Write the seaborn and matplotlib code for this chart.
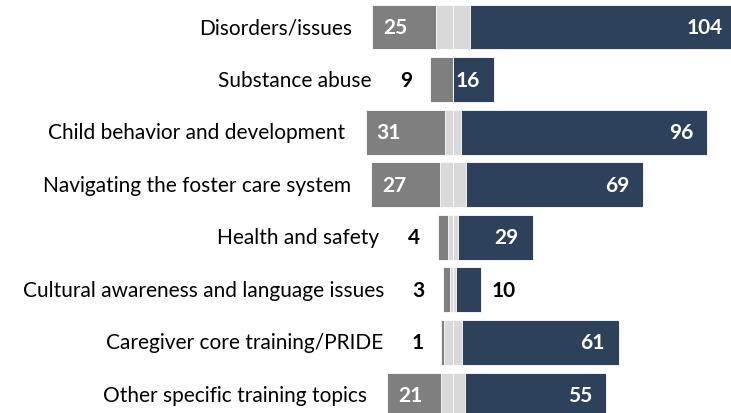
import matplotlib
matplotlib.use("Agg")
import matplotlib.pyplot as plt
import seaborn as sns
import pandas as pd
import numpy as np

categories = [
    "Disorders/issues",
    "Substance abuse",
    "Child behavior and development",
    "Navigating the foster care system",
    "Health and safety",
    "Cultural awareness and language issues",
    "Caregiver core training/PRIDE",
    "Other specific training topics",
]
gray_vals = [25, 9, 31, 27, 4, 3, 1, 21]
neutral_vals = [13, 0, 6, 10, 4, 2, 7, 9]
blue_vals = [104, 16, 96, 69, 29, 10, 61, 55]

GRAY = "#7f7f7f"
LIGHT = "#d9d9d9"
BLUE = "#264061"

sns.set_theme(style="white")
plt.rcParams["font.family"] = ["Lato", "DejaVu Sans"]

df = pd.DataFrame({
    "cat": categories,
    "gray": gray_vals,
    "neutral": neutral_vals,
    "blue": blue_vals,
})
half = df["neutral"] / 2.0
df["left_total"] = -(df["gray"] + half)
df["left_half"] = -half
df["right_total"] = df["blue"] + half
df["right_half"] = half

fig = plt.figure(figsize=(7.31, 4.14), dpi=100)
ax = fig.add_axes([0, 0, 1, 1])

bw = 0.855
kw = dict(orient="h", width=bw, edgecolor="white", linewidth=0.6, ax=ax)
sns.barplot(data=df, x="left_total", y="cat", color=GRAY, **kw)
sns.barplot(data=df, x="left_half", y="cat", color=LIGHT, **kw)
sns.barplot(data=df, x="right_total", y="cat", color=BLUE, **kw)
sns.barplot(data=df, x="right_half", y="cat", color=LIGHT, **kw)
for p in ax.patches:
    p.set_alpha(1)

px = 2.57  # pixels per unit
ax.set_xlim(-453 / px, (731 - 453) / px)
ax.set_ylim((414 - 28) / 52.57, -28 / 52.57)
ax.axis("off")

FS = 15
P = 0.72  # points per pixel
common = dict(textcoords="offset points", va="center", fontsize=FS,
              annotation_clip=False)
for i, r in df.iterrows():
    gstart = r["left_total"]
    bend = r["right_total"]
    # gray value label
    if r["gray"] >= 10:
        ax.annotate(str(r["gray"]), xy=(gstart, i), xytext=(11 * P, 0),
                    ha="left", color="white", fontweight="bold", **common)
        cat_off = -20
    else:
        ax.annotate(str(r["gray"]), xy=(gstart, i), xytext=(-24 * P, 0),
                    ha="center", color="black", fontweight="bold", **common)
        cat_off = -58
    ax.annotate(r["cat"], xy=(gstart, i), xytext=(cat_off * P, 0),
                ha="right", color="black", **common)
    # blue value label
    if r["blue"] > 12:
        ax.annotate(str(r["blue"]), xy=(bend, i), xytext=(-14 * P, 0),
                    ha="right", color="white", fontweight="bold", **common)
    else:
        ax.annotate(str(r["blue"]), xy=(bend, i), xytext=(10 * P, 0),
                    ha="left", color="black", fontweight="bold", **common)

fig.savefig("out.png", dpi=100)
